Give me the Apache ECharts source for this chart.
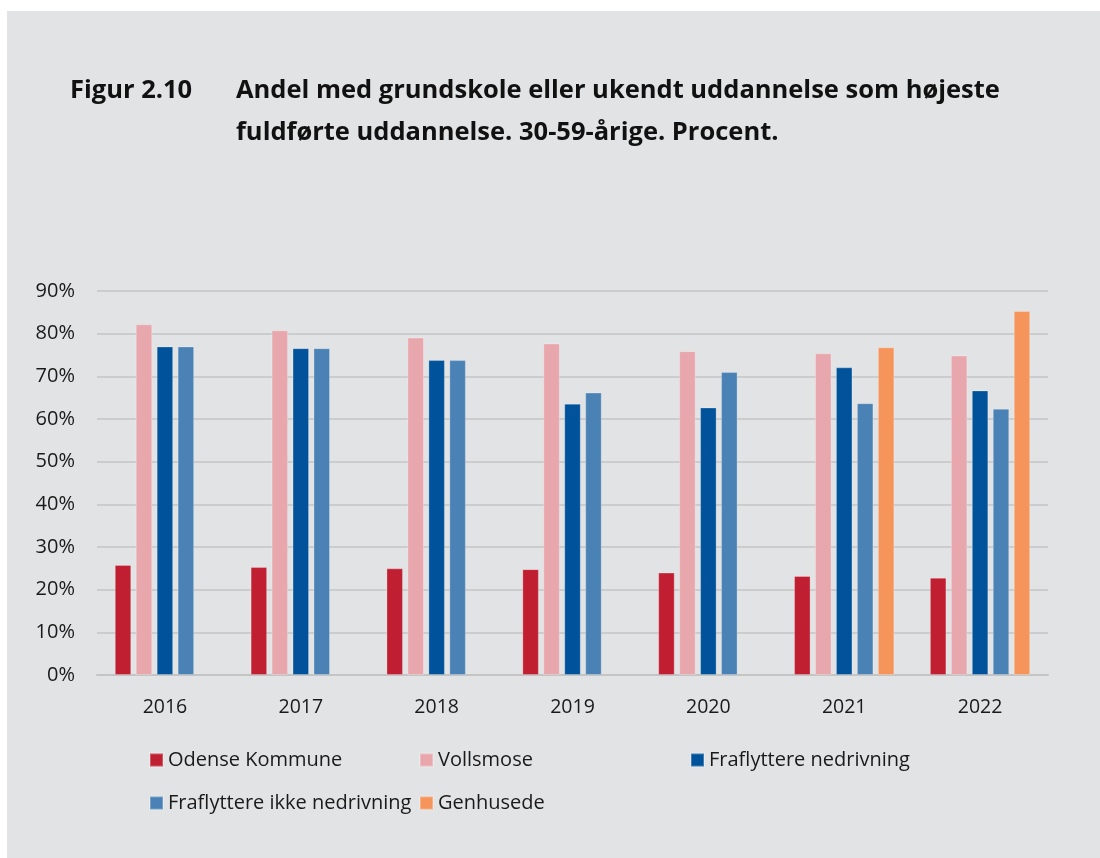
<!DOCTYPE html>
<html>
<head>
<meta charset="utf-8">
<script src="https://cdn.jsdelivr.net/npm/echarts@6/dist/echarts.min.js"></script>
<style>
html,body{margin:0;padding:0;background:#ffffff;}
#chart{width:1100px;height:858px;}
</style>
</head>
<body>
<div id="chart"></div>
<script>
const years = ['2016','2017','2018','2019','2020','2021','2022'];
const seriesNames = ['Odense Kommune','Vollsmose','Fraflyttere nedrivning','Fraflyttere ikke nedrivning','Genhusede'];
const odense = [25.8, 25.3, 25.0, 24.8, 24.0, 23.2, 22.8];
const vollsmose = [82.2, 80.8, 79.1, 77.7, 75.9, 75.4, 74.9];
const fraflytNedriv = [77.0, 76.6, 73.8, 63.6, 62.7, 72.1, 66.7];
const fraflytIkkeNedriv = [77.0, 76.6, 73.8, 66.2, 71.0, 63.7, 62.4];
const genhusede = [null, null, null, null, null, 76.8, 85.3];
const yTicks = [0, 10, 20, 30, 40, 50, 60, 70, 80, 90];

const colors = ['#c01f32', '#e8a7ad', '#00529b', '#4a82b6', '#f5945b'];
const values = [odense, vollsmose, fraflytNedriv, fraflytIkkeNedriv, genhusede];
const FONT = '"Open Sans", "Noto Sans", sans-serif';

const chart = echarts.init(document.getElementById('chart'), null, {renderer: 'canvas'});

const legendPos = [
  {left: 149, top: 750},
  {left: 419, top: 750},
  {left: 690, top: 750},
  {left: 149, top: 793},
  {left: 419, top: 793}
];

const option = {
  backgroundColor: '#ffffff',
  animation: false,
  graphic: [{
    type: 'rect', z: -10,
    shape: {x: 7, y: 11, width: 1093, height: 847},
    style: {fill: '#e2e3e5'}
  }],
  title: [
    {text: 'Figur 2.10', left: 65, top: 65,
     textStyle: {fontFamily: FONT, fontWeight: 'bold', fontSize: 25.5, color: '#111', lineHeight: 42}},
    {text: 'Andel med grundskole eller ukendt uddannelse som højeste\nfuldførte uddannelse. 30-59-årige. Procent.', left: 231, top: 65,
     textStyle: {fontFamily: FONT, fontWeight: 'bold', fontSize: 25.5, color: '#111', lineHeight: 42}}
  ],
  legend: seriesNames.map((n, i) => ({
    data: [n], left: legendPos[i].left, top: legendPos[i].top, padding: 0,
    itemWidth: 13, itemHeight: 13, itemGap: 0, icon: 'rect',
    textStyle: {fontFamily: FONT, fontSize: 20, color: '#1a1a1a'}
  })),
  grid: {left: 97, right: 52, top: 291, bottom: 183, containLabel: false},
  xAxis: {
    type: 'category', data: years,
    axisLine: {show: true, lineStyle: {color: '#c4c4c4', width: 2}},
    axisTick: {show: false},
    axisLabel: {fontFamily: FONT, fontSize: 19.5, color: '#1a1a1a', margin: 22}
  },
  yAxis: {
    type: 'value', min: yTicks[0], max: yTicks[yTicks.length - 1], interval: 10,
    axisLine: {show: false}, axisTick: {show: false},
    splitLine: {lineStyle: {color: '#c4c4c4', width: 1.5}},
    axisLabel: {fontFamily: FONT, fontSize: 20, color: '#1a1a1a', margin: 22, formatter: '{value}%'}
  },
  series: seriesNames.map((n, i) => ({
    name: n, type: 'bar', data: values[i],
    barWidth: 16.5, barGap: '27%',
    itemStyle: {color: colors[i], borderColor: 'rgba(255,255,255,0.25)', borderWidth: 1}
  }))
};
chart.setOption(option);
</script>
</body>
</html>
